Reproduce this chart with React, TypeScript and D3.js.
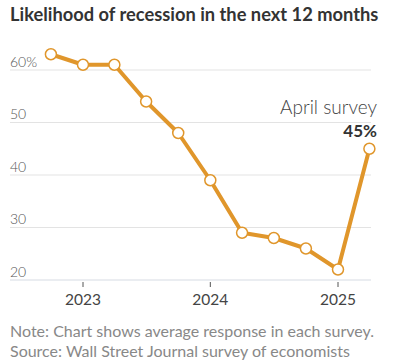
import React from "react";
import * as d3 from "d3";

const surveyDates = [
  "2022-10-01", "2023-01-01", "2023-04-01", "2023-07-01", "2023-10-01",
  "2024-01-01", "2024-04-01", "2024-07-01", "2024-10-01", "2025-01-01", "2025-04-01",
];
const likelihood = [63, 61, 61, 54, 48, 39, 29, 28, 26, 22, 45];
const yTicks = [20, 30, 40, 50, 60];
const xTickYears = [2023, 2024, 2025];
const title = "Likelihood of recession in the next 12 months";
const annotationLabel = "April survey";
const annotationValue = "45%";
const note = "Note: Chart shows average response in each survey.";
const source = "Source: Wall Street Journal survey of economists";

const W = 399;
const H = 363;
const plotLeft = 10;
const plotRight = 371;
const ORANGE = "#E0962B";
const FONT = "Lato, 'Noto Sans', sans-serif";

export default function App() {
  const parse = d3.timeParse("%Y-%m-%d");
  const data = surveyDates.map((d, i) => ({ date: parse(d) as Date, value: likelihood[i] }));

  const x = d3
    .scaleTime()
    .domain([new Date(2023, 0, 1), new Date(2025, 0, 1)])
    .range([83, 338]);
  const y = d3.scaleLinear().domain([20, 60]).range([280, 70]);

  const line = d3
    .line<{ date: Date; value: number }>()
    .x((d) => x(d.date))
    .y((d) => y(d.value));

  const last = data[data.length - 1];

  return (
    <svg
      width={W}
      height={H}
      style={{ position: "absolute", left: 0, top: 0, background: "#fff" }}
      fontFamily={FONT}
    >
      <text x={10} y={21} fontSize={18.3} fontWeight={700} fill="#333">
        {title}
      </text>

      {yTicks.map((t) => (
        <g key={t}>
          <line
            x1={plotLeft}
            x2={plotRight}
            y1={y(t)}
            y2={y(t)}
            stroke={t === 20 ? "#d6dbe3" : "#e3e3e3"}
            strokeWidth={1}
          />
          <text x={10} y={y(t) - 3.5} fontSize={14} fill="#555" fontWeight={300}>
            {t === 60 ? `${t}%` : t}
          </text>
        </g>
      ))}

      {xTickYears.map((yr) => {
        const xp = x(new Date(yr, 0, 1));
        return (
          <g key={yr}>
            <line x1={xp} x2={xp} y1={282} y2={287} stroke="#555" strokeWidth={1} />
            <text x={xp} y={305} fontSize={15.5} fill="#444" textAnchor="middle" fontWeight={400}>
              {yr}
            </text>
          </g>
        );
      })}

      <path d={line(data) || ""} fill="none" stroke={ORANGE} strokeWidth={4} strokeLinejoin="round" />
      {data.map((d, i) => (
        <circle key={i} cx={x(d.date)} cy={y(d.value)} r={5.5} fill="#fff" stroke={ORANGE} strokeWidth={1.5} />
      ))}

      <text x={377} y={114} fontSize={19} fontWeight={300} fill="#444" textAnchor="end">
        {annotationLabel}
      </text>
      <text x={377} y={y(last.value) - 12} fontSize={17} fontWeight={700} fill="#333" textAnchor="end">
        {annotationValue}
      </text>

      <text x={10} y={337} fontSize={16} fill="#888" fontWeight={400}>
        {note}
      </text>
      <text x={10} y={357} fontSize={16} fill="#888" fontWeight={400}>
        {source}
      </text>
    </svg>
  );
}
